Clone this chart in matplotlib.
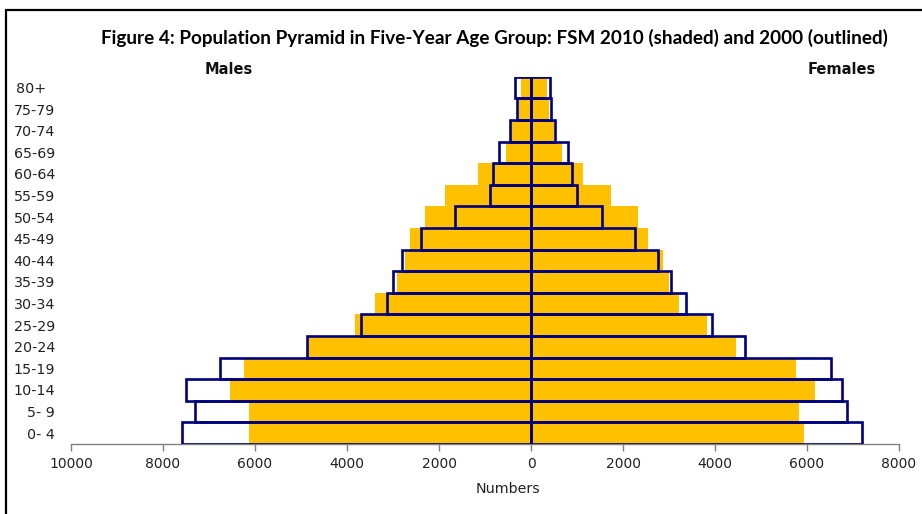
import matplotlib
matplotlib.use("Agg")
import matplotlib.pyplot as plt
from matplotlib.patches import Rectangle
import numpy as np

ages = ["0- 4", "5- 9", "10-14", "15-19", "20-24", "25-29", "30-34", "35-39",
        "40-44", "45-49", "50-54", "55-59", "60-64", "65-69", "70-74", "75-79", "80+"]

males_2010 = [6120, 6120, 6540, 6240, 4850, 3830, 3390, 2920, 2740, 2630, 2300,
              1860, 1160, 540, 440, 270, 220]
males_2000 = [7580, 7310, 7490, 6760, 4880, 3700, 3140, 2990, 2800, 2390, 1660,
              890, 820, 700, 455, 300, 350]
females_2010 = [5930, 5820, 6170, 5760, 4460, 3820, 3220, 3000, 2860, 2550, 2320,
                1730, 1140, 670, 490, 390, 355]
females_2000 = [7200, 6860, 6770, 6520, 4660, 3930, 3370, 3040, 2750, 2260, 1550,
                990, 890, 800, 530, 430, 410]

xticks = [-10000, -8000, -6000, -4000, -2000, 0, 2000, 4000, 6000, 8000]
xticklabels = ["10000", "8000", "6000", "4000", "2000", "0", "2000", "4000", "6000", "8000"]

W, H = 922, 514
fig = plt.figure(figsize=(W / 100, H / 100), dpi=100)
fig.patch.set_facecolor("white")

# outer frame
fig.patches.append(Rectangle((6 / W, -0.05), 1.2, (1 - 10 / H) + 0.05,
                             transform=fig.transFigure, fill=False,
                             edgecolor="black", linewidth=1.6, zorder=0))

ax = fig.add_axes([71 / W, 1 - 444 / H, (899 - 71) / W, (444 - 76.7) / H])
y = np.arange(len(ages))
gold = "#FFC000"
navy = "#000080"

ax.barh(y, [-v for v in males_2010], height=1.0, color=gold, edgecolor="none", zorder=2)
ax.barh(y, females_2010, height=1.0, color=gold, edgecolor="none", zorder=2)
ax.barh(y, [-v for v in males_2000], height=1.0, fill=False, edgecolor=navy,
        linewidth=1.9, zorder=3)
ax.barh(y, females_2000, height=1.0, fill=False, edgecolor=navy,
        linewidth=1.9, zorder=3)

ax.set_xlim(-10000, 8000)
ax.set_ylim(-0.5, len(ages) - 0.5)

ax.set_xticks(xticks)
ax.set_xticklabels(xticklabels, fontsize=10, color="#222222")
ax.tick_params(axis="x", direction="out", length=5, width=1, color="#808080", pad=4)

ax.set_yticks(y)
ax.set_yticklabels([a if a != "80+" else "80+  " for a in ages], fontsize=10.3,
                   color="#222222", ha="right")
ax.tick_params(axis="y", length=0, pad=11.5)

for s in ["top", "right", "left"]:
    ax.spines[s].set_visible(False)
ax.spines["bottom"].set_color("#808080")
ax.spines["bottom"].set_linewidth(1.0)

fig.text(508 / W, 1 - 489 / H, "Numbers", ha="center", va="center",
         fontsize=10.3, color="#222222")
fig.text(229 / W, 1 - 69 / H, "Males", ha="center", va="center",
         fontsize=10.5, fontweight="bold", color="#111111")
fig.text(842 / W, 1 - 69 / H, "Females", ha="center", va="center",
         fontsize=10.5, fontweight="bold", color="#111111")

fig.text(494 / W, 1 - 38 / H,
         "Figure 4: Population Pyramid in Five-Year Age Group: FSM 2010 (shaded) and 2000 (outlined)",
         ha="center", va="center", fontsize=13.6, fontweight="bold",
         family=["Lato", "DejaVu Sans"], color="black")

fig.savefig("out.png", dpi=100)
